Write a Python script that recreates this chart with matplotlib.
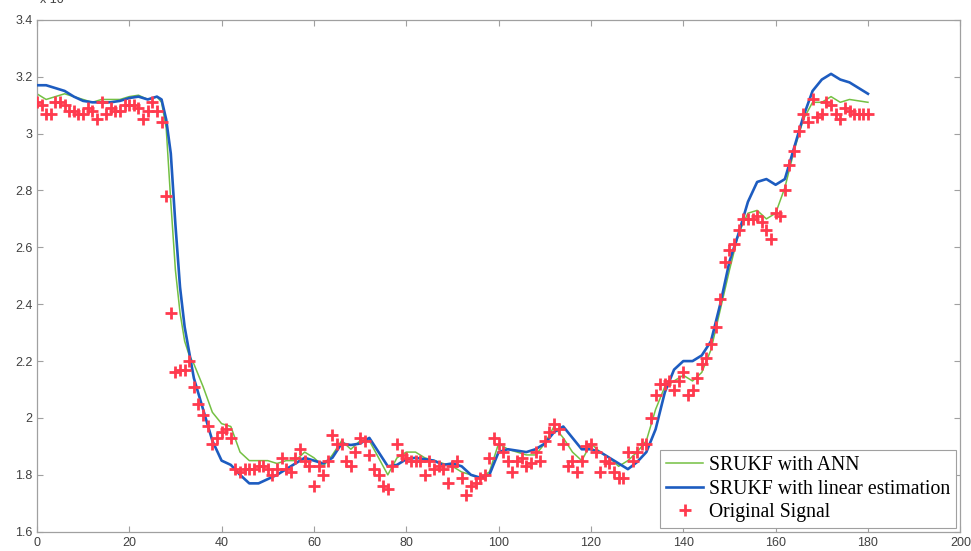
import numpy as np
import matplotlib
matplotlib.use("Agg")
import matplotlib.pyplot as plt

# --- measured signal (one sample per step, scaled units) ---
signal = [
    3.11, 3.10, 3.07, 3.07, 3.11, 3.11, 3.10, 3.08, 3.08, 3.07,
    3.07, 3.09, 3.08, 3.05, 3.11, 3.07, 3.09, 3.08, 3.08, 3.10,
    3.10, 3.10, 3.09, 3.05, 3.08, 3.11, 3.08, 3.04, 2.78,
    2.37, 2.16, 2.17, 2.17, 2.20, 2.11, 2.05, 2.01, 1.97, 1.91,
    1.93, 1.95, 1.96, 1.93, 1.82, 1.81, 1.82, 1.82, 1.82, 1.83,
    1.83, 1.82, 1.80, 1.82, 1.86, 1.82, 1.81, 1.86, 1.89, 1.85,
    1.83, 1.76, 1.83, 1.80, 1.85, 1.94, 1.91, 1.91,
    1.85, 1.83, 1.88, 1.93, 1.92, 1.87, 1.82, 1.80, 1.76, 1.75,
    1.83, 1.91, 1.87, 1.86, 1.85, 1.85, 1.85, 1.80, 1.85, 1.82,
    1.83, 1.82, 1.77, 1.83, 1.85, 1.79, 1.73, 1.76, 1.77, 1.79,
    1.80, 1.86, 1.93, 1.91, 1.88, 1.85, 1.81, 1.85, 1.86, 1.83,
    1.84, 1.88, 1.85, 1.92, 1.95, 1.98, 1.96, 1.91, 1.83, 1.85,
    1.81, 1.85, 1.90, 1.91, 1.88, 1.81, 1.85, 1.84, 1.81, 1.79,
    1.79, 1.88, 1.85, 1.88, 1.91, 1.91, 2.00,
    2.08, 2.12, 2.12, 2.13, 2.10, 2.13, 2.16, 2.08, 2.10, 2.14,
    2.19, 2.21, 2.26, 2.32, 2.42, 2.55, 2.59, 2.61, 2.66, 2.70,
    2.70, 2.70, 2.71, 2.69, 2.66, 2.63, 2.72, 2.71, 2.80, 2.89,
    2.94, 3.01, 3.07, 3.04, 3.12, 3.06, 3.07, 3.11, 3.10, 3.07,
    3.05, 3.09, 3.08, 3.07, 3.07, 3.07, 3.07,
]

# --- filter outputs at their knot positions ---
est_x = [0, 2, 4, 6, 8, 10, 12, 14, 16, 18, 20, 22, 24, 26, 27, 28, 29, 30,
         31, 32, 33, 34, 36, 38, 40, 42, 44, 46, 48, 50, 52, 54, 56, 58, 60,
         62, 64, 66, 68, 70, 72, 74, 76, 78, 80, 82, 84, 86, 88, 90, 92, 94,
         96, 98, 100, 102, 104, 106, 108, 110, 112, 114, 116, 118, 120, 122,
         124, 126, 128, 130, 132, 134, 136, 138, 140, 142, 144, 146, 148, 150,
         152, 154, 156, 158, 160, 162, 164, 166, 168, 170, 172, 174, 176, 178,
         180]

srukf_ann = [3.14, 3.12, 3.13, 3.14, 3.13, 3.12, 3.11, 3.12, 3.12, 3.12,
             3.13, 3.135, 3.12, 3.13, 3.11, 3.02, 2.76, 2.52, 2.37, 2.27,
             2.22, 2.19, 2.11, 2.02, 1.98, 1.97, 1.88, 1.85, 1.85, 1.85,
             1.84, 1.85, 1.85, 1.88, 1.86, 1.83, 1.87, 1.92, 1.89, 1.92,
             1.92, 1.86, 1.80, 1.86, 1.88, 1.88, 1.86, 1.85, 1.84, 1.83,
             1.81, 1.80, 1.79, 1.81, 1.91, 1.89, 1.88, 1.87, 1.87, 1.91,
             1.97, 1.93, 1.88, 1.85, 1.91, 1.88, 1.86, 1.83, 1.85, 1.88,
             1.92, 2.03, 2.11, 2.13, 2.15, 2.13, 2.16, 2.24, 2.38, 2.52,
             2.65, 2.72, 2.73, 2.70, 2.72, 2.81, 2.94, 3.05, 3.11, 3.11,
             3.13, 3.11, 3.12, 3.115, 3.11]

srukf_linear = [3.17, 3.17, 3.16, 3.15, 3.13, 3.115, 3.11, 3.11, 3.11, 3.115,
                3.125, 3.13, 3.12, 3.13, 3.12, 3.05, 2.93, 2.68, 2.46, 2.32,
                2.23, 2.14, 2.03, 1.92, 1.85, 1.835, 1.80, 1.77, 1.77, 1.785,
                1.80, 1.82, 1.84, 1.86, 1.85, 1.84, 1.86, 1.91, 1.905, 1.91,
                1.93, 1.88, 1.83, 1.835, 1.855, 1.86, 1.855, 1.85, 1.835, 1.84,
                1.83, 1.80, 1.79, 1.80, 1.88, 1.89, 1.885, 1.88, 1.89, 1.91,
                1.95, 1.97, 1.93, 1.89, 1.89, 1.88, 1.86, 1.84, 1.82, 1.845,
                1.88, 1.96, 2.09, 2.17, 2.20, 2.20, 2.22, 2.27, 2.40, 2.55,
                2.65, 2.76, 2.83, 2.84, 2.82, 2.84, 2.95, 3.06, 3.15, 3.19,
                3.21, 3.19, 3.18, 3.16, 3.14]

x_ticks = [0, 20, 40, 60, 80, 100, 120, 140, 160, 180, 200]
y_ticks = [1.6, 1.8, 2.0, 2.2, 2.4, 2.6, 2.8, 3.0, 3.2, 3.4]
y_tick_labels = ["1.6", "1.8", "2", "2.2", "2.4", "2.6", "2.8", "3", "3.2", "3.4"]

AXIS_GREY = "#a0a0a0"
LABEL_GREY = "#404040"

fig = plt.figure(figsize=(9.71, 5.51), dpi=100)
ax = fig.add_axes([0.038, 0.035, 0.951, 0.929])

ax.plot(est_x, srukf_ann, color="#74c043", lw=1.1, label="SRUKF with ANN", zorder=2)
ax.plot(est_x, srukf_linear, color="#1d5cc0", lw=1.9, label="SRUKF with linear estimation", zorder=3)
ax.plot(np.arange(len(signal)), signal, ls="none", marker="+", ms=8, mew=2.0,
        color="#ff3a4e", label="Original Signal", zorder=4)

ax.set_xlim(0, 200)
ax.set_ylim(1.6, 3.4)
ax.set_xticks(x_ticks)
ax.set_yticks(y_ticks)
ax.set_yticklabels(y_tick_labels)

# box with inward ticks on every side
ax.tick_params(direction="in", length=4, width=0.8, color=AXIS_GREY,
               labelsize=9, labelcolor=LABEL_GREY, pad=3,
               top=True, right=True)
ax.tick_params(axis="x", pad=4)
for sp in ax.spines.values():
    sp.set_color(AXIS_GREY)
    sp.set_linewidth(0.9)
for lab in ax.get_xticklabels() + ax.get_yticklabels():
    lab.set_fontfamily("Liberation Sans")

leg = ax.legend(loc="lower right", borderaxespad=0.2, handlelength=1.9,
                handletextpad=0.3, labelspacing=0.22, borderpad=0.3,
                fancybox=False, framealpha=1.0,
                prop={"family": "Liberation Serif", "size": 14.2})
leg.get_frame().set_edgecolor(AXIS_GREY)
leg.get_frame().set_linewidth(0.8)

# exponent label, cut off at the top edge
fig.text(0.041, 1.0, "x 10", fontsize=9, color=LABEL_GREY,
         family="Liberation Sans", va="center", ha="left")

fig.savefig("out.png", dpi=100)
